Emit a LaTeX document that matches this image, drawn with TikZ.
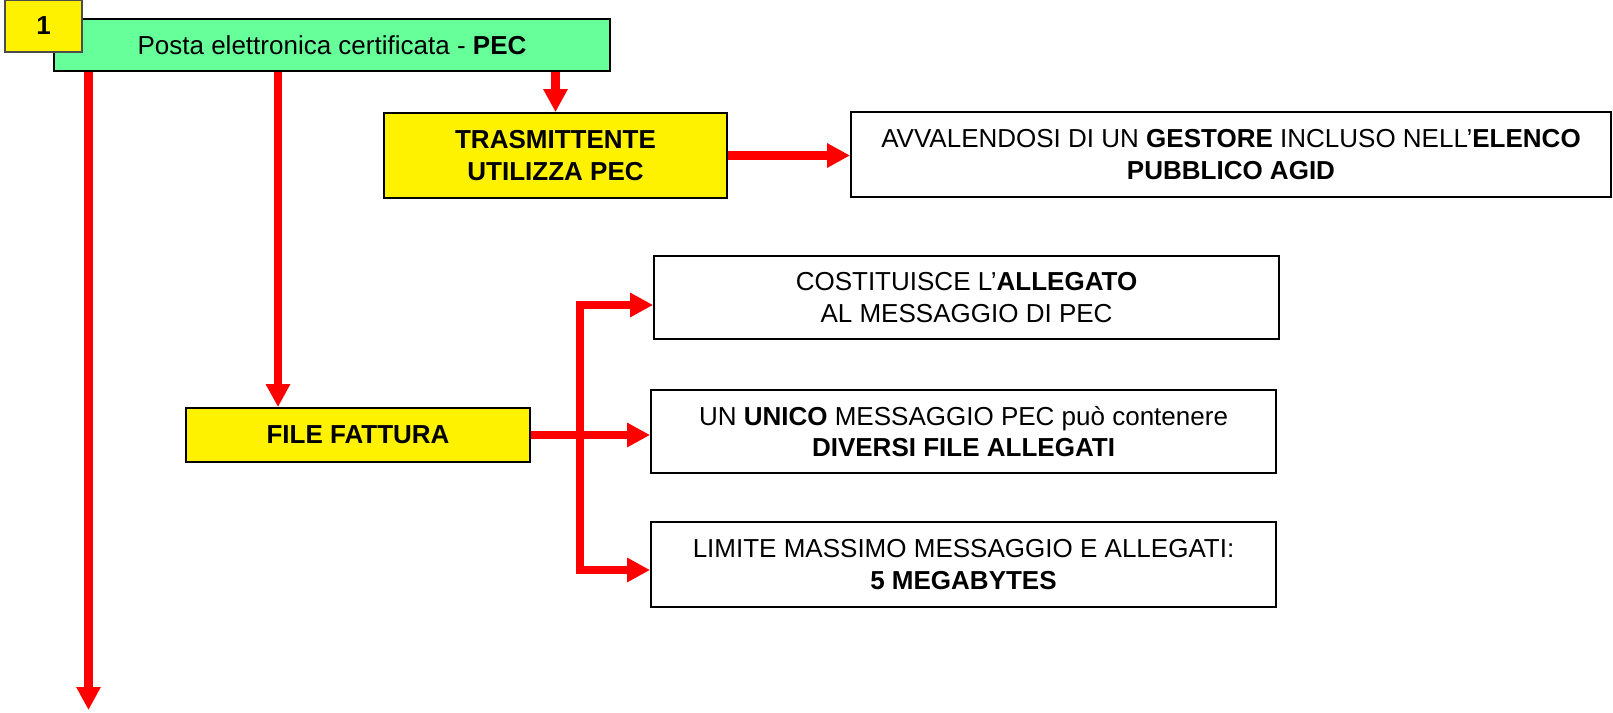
\documentclass[tikz,border=0pt]{standalone}
\usepackage{fontspec}
\setmainfont{Liberation Sans}
\usetikzlibrary{arrows.meta}
\definecolor{verdepec}{HTML}{66FF99}
\tikzset{
  box/.style={draw=black, line width=1pt, align=center, inner sep=0pt, font=\fontsize{14.8}{18}\selectfont},
  giallo/.style={box, fill=yellow},
  bianco/.style={box, fill=white, minimum width=12.5cm, minimum height=1.66cm},
  freccia/.style={draw=red, line width=0.17cm, -{Triangle[width=0.46cm,length=0.46cm]}}
}
\begin{document}
\begin{tikzpicture}
\useasboundingbox (0,0) rectangle (32.26,-14.26);

\node[box, fill=verdepec, minimum width=11.12cm, minimum height=1.04cm] (pec) at (6.64,-0.90) {Posta elettronica certificata - \textbf{PEC}};
\node[giallo, draw=black!70, minimum width=1.54cm, minimum height=1.04cm] (uno) at (0.87,-0.52) {\textbf{1}};

\node[giallo, minimum width=6.86cm, minimum height=1.70cm] (trasm) at (11.11,-3.11) {\textbf{TRASMITTENTE}\\\textbf{UTILIZZA PEC}};
\node[bianco, minimum width=15.2cm, minimum height=1.70cm] (avv) at (24.62,-3.09) {AVVALENDOSI DI UN \textbf{GESTORE} INCLUSO NELL’\textbf{ELENCO}\\\textbf{PUBBLICO AGID}};

\node[giallo, minimum width=6.88cm, minimum height=1.08cm] (ff) at (7.16,-8.70) {\textbf{FILE FATTURA}};

\node[bianco] (allA) at (19.33,-5.95) {COSTITUISCE L’\textbf{ALLEGATO}\\AL MESSAGGIO DI PEC};
\node[bianco] (allB) at (19.27,-8.63) {UN \textbf{UNICO} MESSAGGIO PEC può contenere\\\textbf{DIVERSI FILE ALLEGATI}};
\node[bianco, minimum height=1.70cm] (allC) at (19.27,-11.29) {LIMITE MASSIMO MESSAGGIO E ALLEGATI:\\\textbf{5 MEGABYTES}};

\coordinate (giu) at (1.77,-14.2);
\coordinate (fftop) at ([xshift=-1.6cm]ff.north);
\coordinate (nodo) at ([xshift=0.98cm]ff.east);

\draw[freccia] (pec.south -| giu) -- (giu);
\draw[freccia] (pec.south -| fftop) -- (fftop);
\draw[freccia] (pec.south -| trasm.north) -- (trasm.north);
\draw[freccia] (trasm.east) -- (trasm.east -| avv.west);

\draw[freccia] (ff.east) -- (ff.east -| allB.west);
\draw[freccia] (nodo) |- ([yshift=-0.15cm]allA.west);
\draw[freccia] (nodo) |- ([yshift=-0.11cm]allC.west);
\end{tikzpicture}
\end{document}
